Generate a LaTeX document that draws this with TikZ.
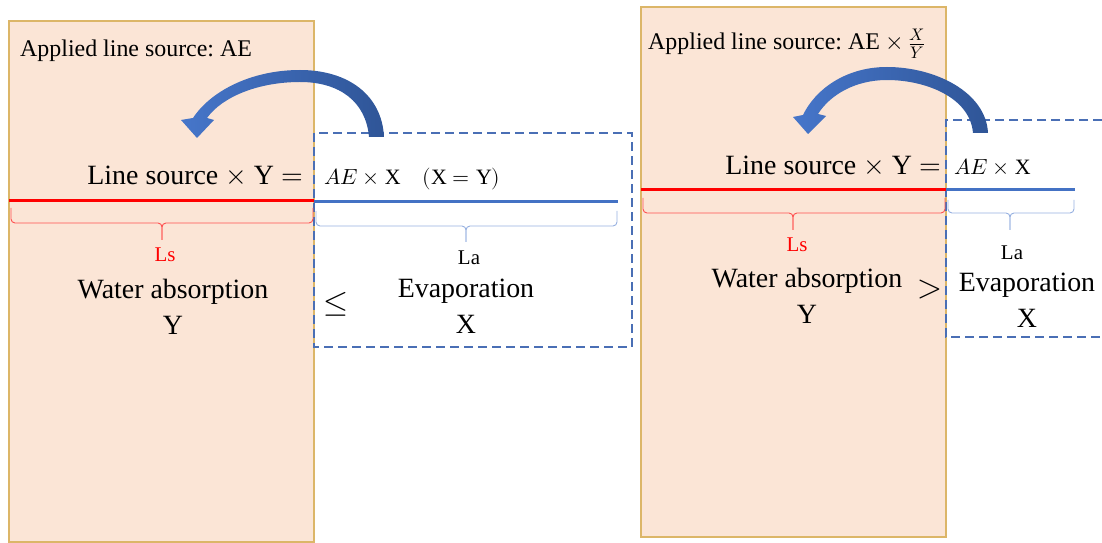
\documentclass[tikz,border=0pt]{standalone}
\usepackage{fontspec}
\usepackage{unicode-math}
\setmainfont{Liberation Serif}
\setmathfont{Latin Modern Math}
\frenchspacing
\usetikzlibrary{positioning}

\definecolor{peach}{RGB}{251,229,214}
\definecolor{peachedge}{RGB}{220,182,104}
\definecolor{dashblue}{RGB}{74,111,181}
\definecolor{lineblue}{RGB}{68,114,196}
\definecolor{braceblue}{RGB}{150,176,224}
\definecolor{bracered}{RGB}{255,80,80}
\definecolor{arrowlight}{RGB}{70,118,202}
\definecolor{arrowdark}{RGB}{47,85,151}

\begin{document}
\begin{tikzpicture}[x=1bp, y=-1bp,
  soil/.style={fill=peach, draw=peachedge, line width=1.5bp},
  airbox/.style={draw=dashblue, line width=1.8bp, dash pattern=on 9bp off 5bp},
  srcline/.style={line width=3bp},
  bracket/.style={line width=0.9bp, rounded corners=4bp},
  bent/.style={left color=arrowlight, right color=arrowdark},
  big/.style={font=\fontsize{28}{36}\selectfont, inner sep=0pt, align=center},
  head/.style={font=\fontsize{24}{28}\selectfont, inner sep=0pt},
  eq/.style={font=\fontsize{22}{26}\selectfont, inner sep=0pt},
  len/.style={font=\fontsize{21}{24}\selectfont, inner sep=0pt},
  rel/.style={font=\fontsize{32}{34}\selectfont, inner sep=0pt}]
\useasboundingbox (0,0) rectangle (1102,543);

% ---- case 1: X <= Y ----
\draw[soil] (9,21) rectangle (314,542);
\draw[airbox] (314,133) rectangle (632,347);
\draw[srcline, red] (9,201) -- (314,201);
\draw[srcline, lineblue] (314,202) -- (618,202);
\draw[bracket, bracered] (11,208) |- (162,223) -- (162,240);
\draw[bracket, bracered] (313,208) |- (162,223) -- (162,240);
\draw[bracket, braceblue] (316,211) |- (466,226) -- (466,242);
\draw[bracket, braceblue] (617,211) |- (466,226) -- (466,242);
\shade[bent] (384,137) .. controls (382,95) and (348,70) .. (300,70)
  .. controls (250,70) and (210,92) .. (193,118) -- (181,120) -- (197,138)
  -- (214,120) -- (207,118) .. controls (222,97) and (258,82) .. (300,82)
  .. controls (340,82) and (366,102) .. (369,137) -- cycle;

\node[head, anchor=base west] (applyA) at (20,57) {Applied line source: AE};
\node[big, anchor=base east] (lsA) at (303,185) {Line source $\times$ Y $=$};
\node[eq, base right=21bp of lsA] (aeA) {$AE\times\mathrm{X}\quad(\mathrm{X}=\mathrm{Y})$};
\node[len, text=red] (LsA) at (165,255) {Ls};
\node[len] (LaA) at (469,258) {La};
\node[big] (waterA) at (173,307) {Water absorption\\Y};
\node[big] (evapA) at (466,306) {Evaporation\\X};
\node[rel] (leA) at (336,304) {$\leq$};

% ---- case 2: X > Y ----
\draw[soil] (641,7) rectangle (946,537);
\draw[airbox] (1102,120) -- (946,120) -- (946,337) -- (1102,337);
\draw[srcline, red] (641,190) -- (946,190);
\draw[srcline, lineblue] (946,190) -- (1075,190);
\draw[bracket, bracered] (643,198) |- (793,213) -- (793,230);
\draw[bracket, bracered] (945,198) |- (793,213) -- (793,230);
\draw[bracket, braceblue] (948,200) |- (1010,213) -- (1010,230);
\draw[bracket, braceblue] (1074,200) |- (1010,213) -- (1010,230);
\shade[bent] (988,133) .. controls (986,92) and (935,67) .. (887,67)
  .. controls (845,67) and (815,90) .. (803,115) -- (793,117) -- (808,134)
  -- (826,116) -- (818,114) .. controls (830,95) and (855,80) .. (887,80)
  .. controls (925,80) and (970,97) .. (973,133) -- cycle;

\node[head, anchor=base west] (applyB) at (648,50) {Applied line source: AE $\times\,\frac{X}{Y}$};
\node[big, anchor=base east] (lsB) at (941,175) {Line source $\times$ Y $=$};
\node[eq, base right=13bp of lsB] (aeB) {$AE\times\mathrm{X}$};
\node[len, text=red] (LsB) at (797,245) {Ls};
\node[len] (LaB) at (1012,253) {La};
\node[big] (waterB) at (807,296) {Water absorption\\Y};
\node[big] (evapB) at (1027,300) {Evaporation\\X};
\node[rel] (gtB) at (930,290) {$>$};
\end{tikzpicture}
\end{document}
